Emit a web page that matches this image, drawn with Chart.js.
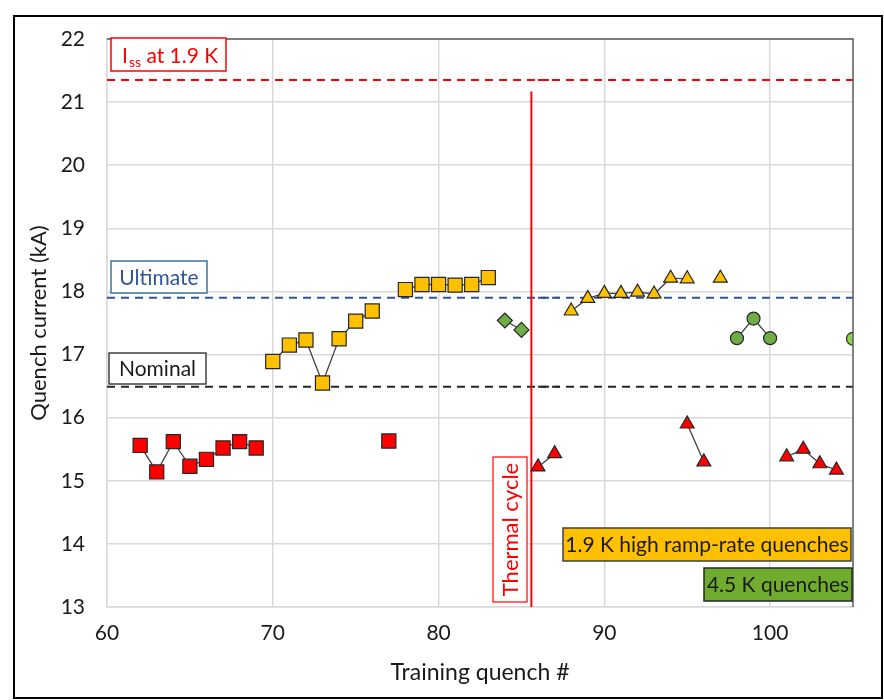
<!DOCTYPE html>
<html>
<head>
<meta charset="utf-8">
<script src="https://cdn.jsdelivr.net/npm/chart.js@4.4.1/dist/chart.umd.min.js"></script>
<style>
  body { margin: 0; background: #fff; }
  canvas { display: block; }
</style>
</head>
<body>
<canvas id="quench" width="884" height="700"></canvas>
<script>
// Training quenches, first cool-down at 1.9 K (red squares)
const redSqNum = [62, 63, 64, 65, 66, 67, 68, 69, null, 77];
const redSqKA = [15.56, 15.14, 15.62, 15.23, 15.34, 15.52, 15.62, 15.52, null, 15.63];

// High ramp-rate quenches at 1.9 K, first cool-down
const orangeSqNum = [70, 71, 72, 73, 74, 75, 76, null, 78, 79, 80, 81, 82, 83];
const orangeSqKA = [16.89, 17.15, 17.23, 16.55, 17.25, 17.53, 17.69, null, 18.03, 18.11, 18.11, 18.10, 18.11, 18.22];

// 4.5 K quenches, first cool-down
const greenDiaNum = [84, 85];
const greenDiaKA = [17.54, 17.39];

// After thermal cycle: training quenches at 1.9 K
const redTriNum = [86, 87, null, 95, 96, null, 101, 102, 103, 104];
const redTriKA = [15.22, 15.43, null, 15.90, 15.30, null, 15.38, 15.50, 15.27, 15.17];

// After thermal cycle: high ramp-rate quenches at 1.9 K
const orangeTriNum = [88, 89, 90, 91, 92, 93, 94, 95, null, 97];
const orangeTriKA = [17.69, 17.89, 17.97, 17.97, 17.99, 17.96, 18.21, 18.20, null, 18.21];

// After thermal cycle: 4.5 K quenches
const greenCircNum = [98, 99, 100];
const greenCircKA = [17.26, 17.57, 17.26];
const lightCircNum = [105];
const lightCircKA = [17.25];

// Reference currents (kA)
const issKA = 21.35;
const ultimateKA = 17.90;
const nominalKA = 16.49;

// Thermal cycle position and reference line extents
const thermalNum = 85.6;
const thermalTopKA = 21.17;
const refLeftNum = [60, 87.3];
const refRightNum = [86, 105];

const xTicks = [60, 70, 80, 90, 100];

const FONT = "Lato, 'Open Sans', sans-serif";

function pts(xs, ys) {
  return xs.map((x, i) => ({ x: x, y: ys[i] }));
}

function series(xs, ys, style, radius, fill) {
  return {
    data: pts(xs, ys),
    showLine: true,
    spanGaps: false,
    borderColor: "#404040",
    borderWidth: 1.3,
    pointStyle: style,
    pointRadius: radius,
    pointBackgroundColor: fill,
    pointBorderColor: "#262626",
    pointBorderWidth: 1.2,
  };
}

function refLine(xs, y, color) {
  return {
    data: xs.map((x) => ({ x: x, y: y })),
    showLine: true,
    borderColor: color,
    borderWidth: 2,
    borderDash: [8, 6],
    pointRadius: 0,
  };
}

// Text boxes, axis frame and outer border
const decorPlugin = {
  id: "decor",
  beforeDraw(chart) {
    const ctx = chart.ctx;
    ctx.save();
    ctx.fillStyle = "#fff";
    ctx.fillRect(0, 0, chart.width, chart.height);
    ctx.restore();
  },
  afterDatasetsDraw(chart) {
    const ctx = chart.ctx;
    const a = chart.chartArea;
    ctx.save();

    // dark top and right edges of the plot area
    ctx.strokeStyle = "#595959";
    ctx.lineWidth = 1.5;
    ctx.beginPath();
    ctx.moveTo(a.left, a.top);
    ctx.lineTo(a.right, a.top);
    ctx.lineTo(a.right, a.bottom);
    ctx.stroke();

    // I_ss label
    box(ctx, a.left + 4, a.top - 1, 115, 33, "#fff", "#ff0000", 1.5);
    ctx.fillStyle = "#ff0000";
    ctx.textBaseline = "alphabetic";
    ctx.textAlign = "left";
    ctx.font = "21px " + FONT;
    let tx = a.left + 15;
    ctx.fillText("I", tx, a.top + 24);
    tx += ctx.measureText("I").width + 1;
    ctx.font = "14px " + FONT;
    ctx.fillText("ss", tx, a.top + 28);
    tx += ctx.measureText("ss").width;
    ctx.font = "21px " + FONT;
    ctx.fillText(" at 1.9 K", tx, a.top + 24);

    labelBox(ctx, a.left + 4, 261, 96, 32, "#fff", "#41719c", "Ultimate", "#2f5597", 21);
    labelBox(ctx, a.left + 2, 353, 97, 31, "#fff", "#404040", "Nominal", "#1a1a1a", 21);
    labelBox(ctx, 563, 528, 288, 33, "#ffc000", "#404040", "1.9 K high ramp-rate quenches", "#1a1a1a", 21);
    labelBox(ctx, 704, 568, 148, 33, "#70ad2f", "#262626", "4.5 K quenches", "#1a1a1a", 21);

    // rotated thermal cycle label
    box(ctx, 493, 457, 34, 145, "#fff", "#ff0000", 1.2);
    ctx.translate(510, 529.5);
    ctx.rotate(-Math.PI / 2);
    ctx.fillStyle = "#ff0000";
    ctx.font = "22px " + FONT;
    ctx.textAlign = "center";
    ctx.textBaseline = "middle";
    ctx.fillText("Thermal cycle", 0, 1);
    ctx.restore();
  },
  afterDraw(chart) {
    const ctx = chart.ctx;
    ctx.save();
    ctx.strokeStyle = "#000";
    ctx.lineWidth = 2;
    ctx.strokeRect(14, 16, 868, 682);
    ctx.restore();
  },
};

function box(ctx, x, y, w, h, fill, stroke, lw) {
  ctx.fillStyle = fill;
  ctx.fillRect(x, y, w, h);
  ctx.strokeStyle = stroke;
  ctx.lineWidth = lw;
  ctx.strokeRect(x, y, w, h);
}

function labelBox(ctx, x, y, w, h, fill, stroke, text, color, size) {
  box(ctx, x, y, w, h, fill, stroke, 1.5);
  ctx.fillStyle = color;
  ctx.font = size + "px " + FONT;
  ctx.textAlign = "center";
  ctx.textBaseline = "middle";
  ctx.fillText(text, x + w / 2, y + h / 2 + 1);
}

const datasets = [
  series(redSqNum, redSqKA, "rect", 10, "#ff0000"),
  series(orangeSqNum, orangeSqKA, "rect", 10, "#ffc000"),
  series(greenDiaNum, greenDiaKA, "rectRot", 7.5, "#70ad47"),
  series(redTriNum, redTriKA, "triangle", 8, "#ff0000"),
  series(orangeTriNum, orangeTriKA, "triangle", 8, "#ffc000"),
  series(greenCircNum, greenCircKA, "circle", 6.5, "#70ad47"),
  series(lightCircNum, lightCircKA, "circle", 6.5, "#92d050"),
  {
    data: [{ x: thermalNum, y: 13 }, { x: thermalNum, y: thermalTopKA }],
    showLine: true,
    borderColor: "#ff0000",
    borderWidth: 2,
    pointRadius: 0,
  },
  refLine(refLeftNum, issKA, "#ff0000"),
  refLine(refRightNum, issKA, "#ff0000"),
  refLine(refLeftNum, ultimateKA, "#2f5597"),
  refLine(refRightNum, ultimateKA, "#2f5597"),
  refLine(refLeftNum, nominalKA, "#262626"),
  refLine(refRightNum, nominalKA, "#262626"),
];

new Chart(document.getElementById("quench"), {
  type: "scatter",
  data: { datasets: datasets },
  plugins: [decorPlugin],
  options: {
    responsive: false,
    animation: false,
    layout: { padding: { left: 0, right: 31, top: 39, bottom: 0 } },
    plugins: {
      legend: { display: false },
      tooltip: { enabled: false },
    },
    scales: {
      x: {
        type: "linear",
        min: 60,
        max: 105,
        afterFit: (s) => { s.height = 93; },
        afterBuildTicks: (s) => { s.ticks = xTicks.map((v) => ({ value: v })); },
        grid: { color: "#d9d9d9", lineWidth: 1.5, drawTicks: false },
        border: { color: "#d9d9d9", width: 1.5 },
        ticks: {
          padding: 14,
          color: "#1a1a1a",
          font: { family: FONT, size: 21 },
        },
        title: {
          display: true,
          text: "Training quench #",
          color: "#1a1a1a",
          font: { family: FONT, size: 23 },
          padding: { top: 0, bottom: 14 },
        },
      },
      y: {
        min: 13,
        max: 22,
        afterFit: (s) => { s.width = 107; },
        grid: { color: "#d9d9d9", lineWidth: 1.5, drawTicks: false },
        border: { color: "#d9d9d9", width: 1.5 },
        ticks: {
          stepSize: 1,
          padding: 22,
          color: "#1a1a1a",
          font: { family: FONT, size: 21 },
        },
        title: {
          display: true,
          text: "Quench current (kA)",
          color: "#1a1a1a",
          font: { family: FONT, size: 22 },
          padding: { top: 26, bottom: 0 },
        },
      },
    },
  },
});
</script>
</body>
</html>
